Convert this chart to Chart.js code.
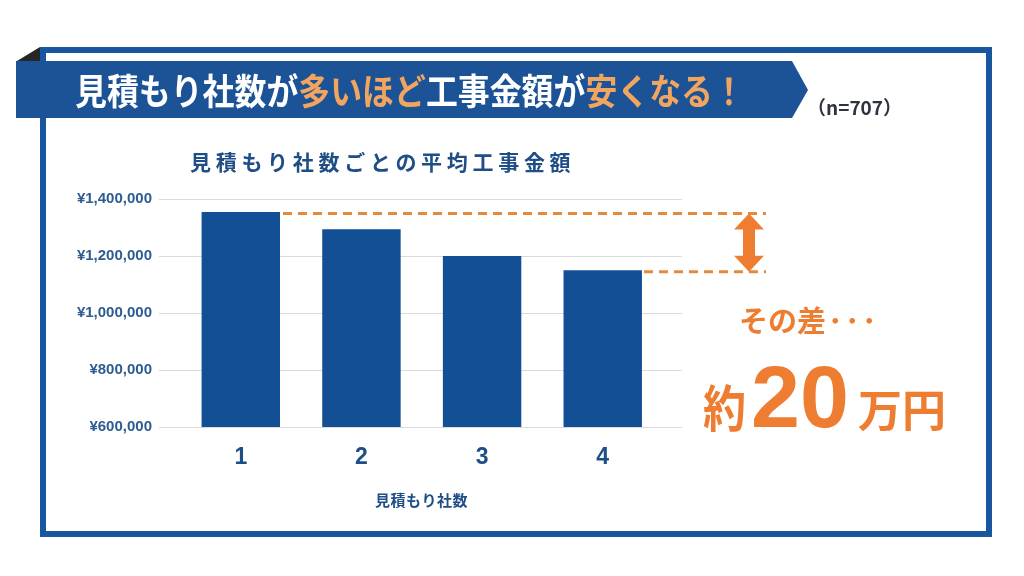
<!DOCTYPE html>
<html><head><meta charset="utf-8">
<script src="https://cdn.jsdelivr.net/npm/chart.js@4"></script>
<style>
html,body{margin:0;padding:0;background:#fff;}
#wrap{position:relative;width:1024px;height:576px;overflow:hidden;background:#fff;font-family:"Noto Sans CJK JP",sans-serif;}
svg,canvas{position:absolute;left:0;top:0;}
.t{position:absolute;white-space:nowrap;line-height:1;font-weight:bold;}
</style></head><body>
<div id="wrap">
<svg width="1024" height="576">
 <rect x="43" y="50" width="946" height="484" fill="#fff" stroke="#1857a0" stroke-width="6"/>
 <polygon points="16,61 792,61 808,90 792,118 16,118" fill="#1b5396"/>
 <polygon points="17,61 40,47 40,61" fill="#262626"/>
</svg>
<canvas id="c" width="1024" height="576" style="width:1024px;height:576px"></canvas>
<div class="t" style="left:75px;top:71px;font-size:36px;color:#fff;transform:scaleX(0.886);transform-origin:0 0;">見積もり社数が<span style="color:#f2a55e">多いほど</span>工事金額が<span style="color:#f2a55e">安くなる！</span></div>
<div class="t" style="left:807px;top:97px;font-size:19px;color:#2f3340;">（n=707）</div>
<div class="t" style="left:190px;top:151px;font-size:21px;letter-spacing:4.7px;color:#1f4e86;">見積もり社数ごとの平均工事金額</div>
<div class="t" style="left:375px;top:492px;font-size:15px;letter-spacing:0.5px;color:#1f4e86;">見積もり社数</div>
<div class="t" style="left:739px;top:305px;font-size:29px;color:#ee7d31;">その差<span style="letter-spacing:2.5px;margin-left:2px">･･･</span></div>
<div class="t" style="left:703px;top:380px;font-size:50px;color:#ee7d31;transform:scaleX(0.86);transform-origin:0 0;">約</div>
<div class="t" style="left:751px;top:353px;font-size:88px;font-family:'Liberation Sans',Arial,sans-serif;color:#ee7d31;">20</div>
<div class="t" style="left:858px;top:386px;font-size:44px;color:#ee7d31;">万円</div>
</div>
<script>
const categories = [1, 2, 3, 4];
const values = [1354000, 1294000, 1200000, 1150000];
const yTicks = [600000, 800000, 1000000, 1200000, 1400000];

const gapAnnotation = {
  id: 'gapAnnotation',
  afterDatasetsDraw(chart) {
    const meta = chart.getDatasetMeta(0);
    const b1 = meta.data[0], b4 = meta.data[meta.data.length - 1];
    const ctx = chart.ctx;
    const endX = 766, arrowX = 749;
    const yTop = b1.y + 1.5, yBot = b4.y + 1.5;
    ctx.save();
    ctx.strokeStyle = '#e38a3f';
    ctx.lineWidth = 3;
    ctx.setLineDash([9, 6]);
    ctx.beginPath();
    ctx.moveTo(b1.x + b1.width / 2 + 3, yTop); ctx.lineTo(endX, yTop);
    ctx.moveTo(b4.x + b4.width / 2 + 2, yBot); ctx.lineTo(endX, yBot);
    ctx.stroke();
    ctx.setLineDash([]);
    ctx.fillStyle = '#ee7d31';
    const hw = 15, hh = 16, sw = 6;
    ctx.beginPath();
    ctx.moveTo(arrowX, yTop);
    ctx.lineTo(arrowX + hw, yTop + hh);
    ctx.lineTo(arrowX + sw, yTop + hh);
    ctx.lineTo(arrowX + sw, yBot - hh);
    ctx.lineTo(arrowX + hw, yBot - hh);
    ctx.lineTo(arrowX, yBot);
    ctx.lineTo(arrowX - hw, yBot - hh);
    ctx.lineTo(arrowX - sw, yBot - hh);
    ctx.lineTo(arrowX - sw, yTop + hh);
    ctx.lineTo(arrowX - hw, yTop + hh);
    ctx.closePath();
    ctx.fill();
    ctx.restore();
  }
};

new Chart(document.getElementById('c'), {
  type: 'bar',
  data: {
    datasets: [{
      data: categories.map((c, i) => ({ x: c, y: values[i] })),
      backgroundColor: '#134f94',
      borderWidth: 0,
      categoryPercentage: 1,
      barPercentage: 0.65
    }]
  },
  options: {
    responsive: false,
    animation: false,
    devicePixelRatio: 1,
    layout: { padding: { left: 0, top: 199, right: 342, bottom: 49 } },
    plugins: { legend: { display: false }, tooltip: { enabled: false } },
    scales: {
      x: {
        type: 'linear',
        offset: false,
        min: 0.322, max: 4.657,
        afterFit(s) { s.height = 100; },
        grid: { display: false },
        border: { display: false },
        ticks: {
          stepSize: 1, includeBounds: false, padding: 9,
          color: '#1c4e88',
          font: { family: "'Liberation Sans', Arial, sans-serif", size: 23, weight: 'bold' },
          callback: v => categories.includes(v) ? String(v) : ''
        }
      },
      y: {
        min: yTicks[0], max: yTicks[yTicks.length - 1],
        afterFit(s) { s.width = 159; },
        afterBuildTicks(s) { s.ticks = yTicks.map(v => ({ value: v })); },
        grid: { color: '#dadada', lineWidth: 1, drawTicks: false },
        border: { display: false },
        ticks: {
          padding: 7,
          color: '#2c5c92',
          font: { family: "'Liberation Sans', Arial, sans-serif", size: 15, weight: 'bold' },
          callback: v => '¥' + v.toLocaleString('en-US')
        }
      }
    }
  },
  plugins: [gapAnnotation]
});
</script>
</body></html>
